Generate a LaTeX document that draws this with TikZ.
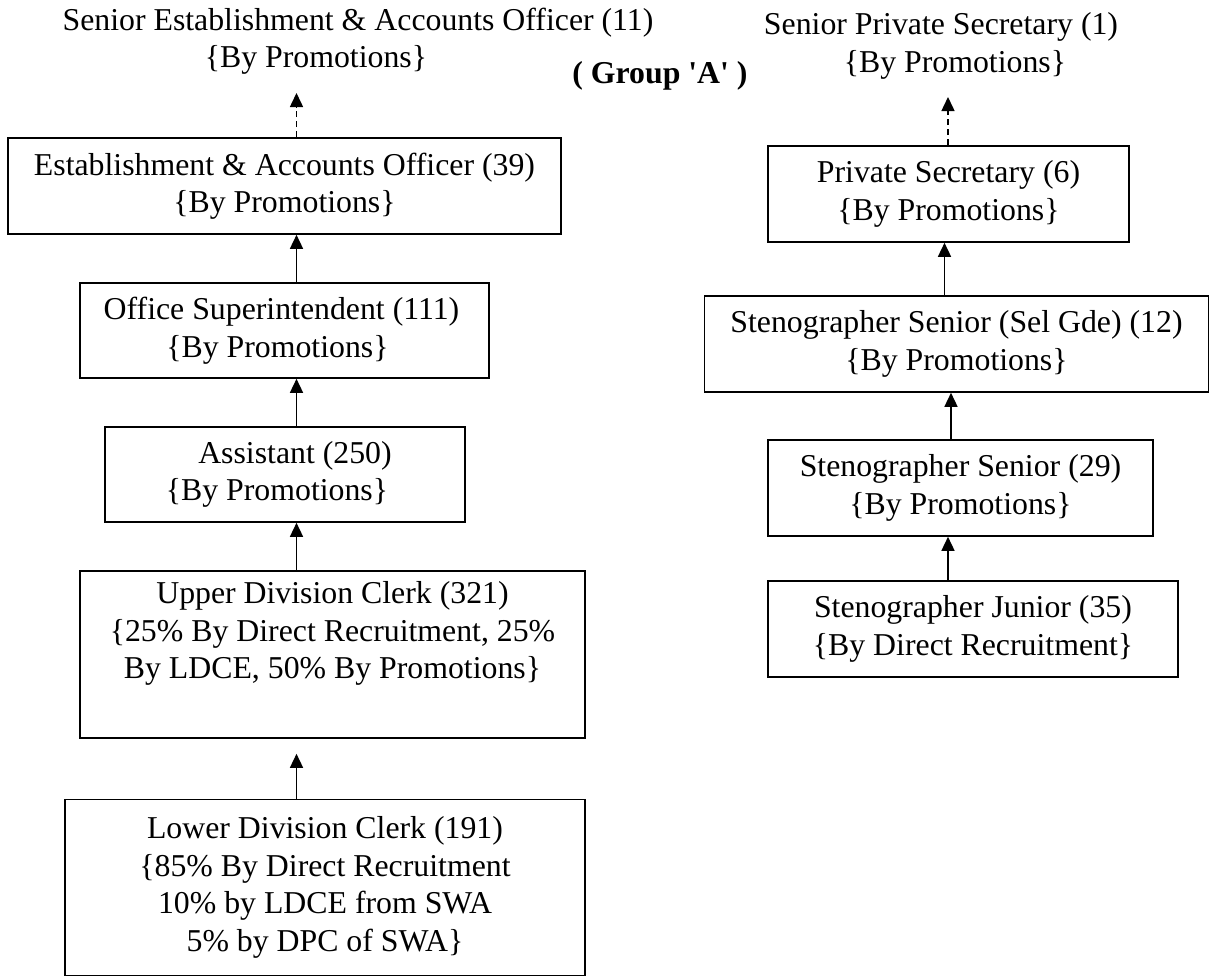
\documentclass[tikz,border=0pt]{standalone}
\usepackage{fontspec}
\setmainfont{Liberation Serif}
\newfontfamily\lib{Liberation Serif}
\usetikzlibrary{arrows.meta}
\tikzset{
  txt/.style={font=\lib\fontsize{31.8}{37.5}\selectfont},
  post/.style={txt, draw, line width=1.6pt, align=center, inner sep=0pt},
  lbl/.style={txt, align=center, inner sep=0pt},
  arr/.style={line width=1.5pt, -{Triangle[width=13pt,length=14pt]}},
  darr/.style={arr, dash pattern=on 6pt off 4pt},
}
\begin{document}
\begin{tikzpicture}[x=1pt,y=-1pt]
\useasboundingbox (0,0) rectangle (1211,978);
\coordinate (ax) at (296.5,0);
\coordinate (b1) at (948,0);
\coordinate (b2) at (944.5,0);
\coordinate (b3) at (951,0);
\coordinate (b4) at (948,0);
\coordinate (t1) at (296.5,93);
\coordinate (t2) at (948,97);

% top labels
\node[lbl] (seao) at (358,41) {Senior Establishment \& Accounts Officer (11)\\\{By Promotions\}\hspace*{84pt}};
\node[lbl, font=\lib\bfseries\fontsize{31.8}{37.5}\selectfont] (grp) at (660,76) {( Group 'A' )};
\node[lbl] (sps) at (948,46) {Senior Private Secretary (1)\hspace*{14pt}\\\hspace*{14pt}\{By Promotions\}};

% left column
\node[post, minimum width=553pt, minimum height=96pt] (eao) at (284.5,186) {Establishment \& Accounts Officer (39)\\\{By Promotions\}};
\node[post, minimum width=409pt, minimum height=95pt] (os) at (284.5,330.5) {Office Superintendent (111)\hspace*{6pt}\\\{By Promotions\}\hspace*{14pt}};
\node[post, minimum width=360pt, minimum height=95pt] (asst) at (285,474.5) {\hspace*{20pt}Assistant (250)\\\{By Promotions\}\hspace*{16pt}};
\node[post, minimum width=505pt, minimum height=167pt] (udc) at (332.5,654.5) {Upper Division Clerk (321)\\\{25\% By Direct Recruitment, 25\%\\By LDCE, 50\% By Promotions\}\\\strut};
\node[post, minimum width=520pt, minimum height=176pt] (ldc) at (325,887.5) {Lower Division Clerk (191)\\\{85\% By Direct Recruitment\\10\% by LDCE from SWA\\5\% by DPC of SWA\}};

% right column
\node[post, minimum width=361pt, minimum height=96pt] (ps) at (948.5,194) {Private Secretary (6)\\\{By Promotions\}};
\node[post, minimum width=504pt, minimum height=96pt] (sg) at (956.5,344) {Stenographer Senior (Sel Gde) (12)\\\{By Promotions\}};
\node[post, minimum width=385pt, minimum height=96pt] (ss) at (960.5,488) {Stenographer Senior (29)\\\{By Promotions\}};
\node[post, minimum width=410pt, minimum height=96pt] (sj) at (973,629) {Stenographer Junior (35)\\\{By Direct Recruitment\}};

% connectors left
\draw[darr] (eao.north -| ax) -- (t1);
\draw[arr] (os.north -| ax) -- (eao.south -| ax);
\draw[arr] (asst.north -| ax) -- (os.south -| ax);
\draw[arr] (udc.north -| ax) -- (asst.south -| ax);
\draw[arr, shorten >=15pt] (ldc.north -| ax) -- (udc.south -| ax);

% connectors right
\draw[darr] (ps.north -| b1) -- (t2);
\draw[arr] (sg.north -| b2) -- (ps.south -| b2);
\draw[arr] (ss.north -| b3) -- (sg.south -| b3);
\draw[arr] (sj.north -| b4) -- (ss.south -| b4);
\end{tikzpicture}
\end{document}
